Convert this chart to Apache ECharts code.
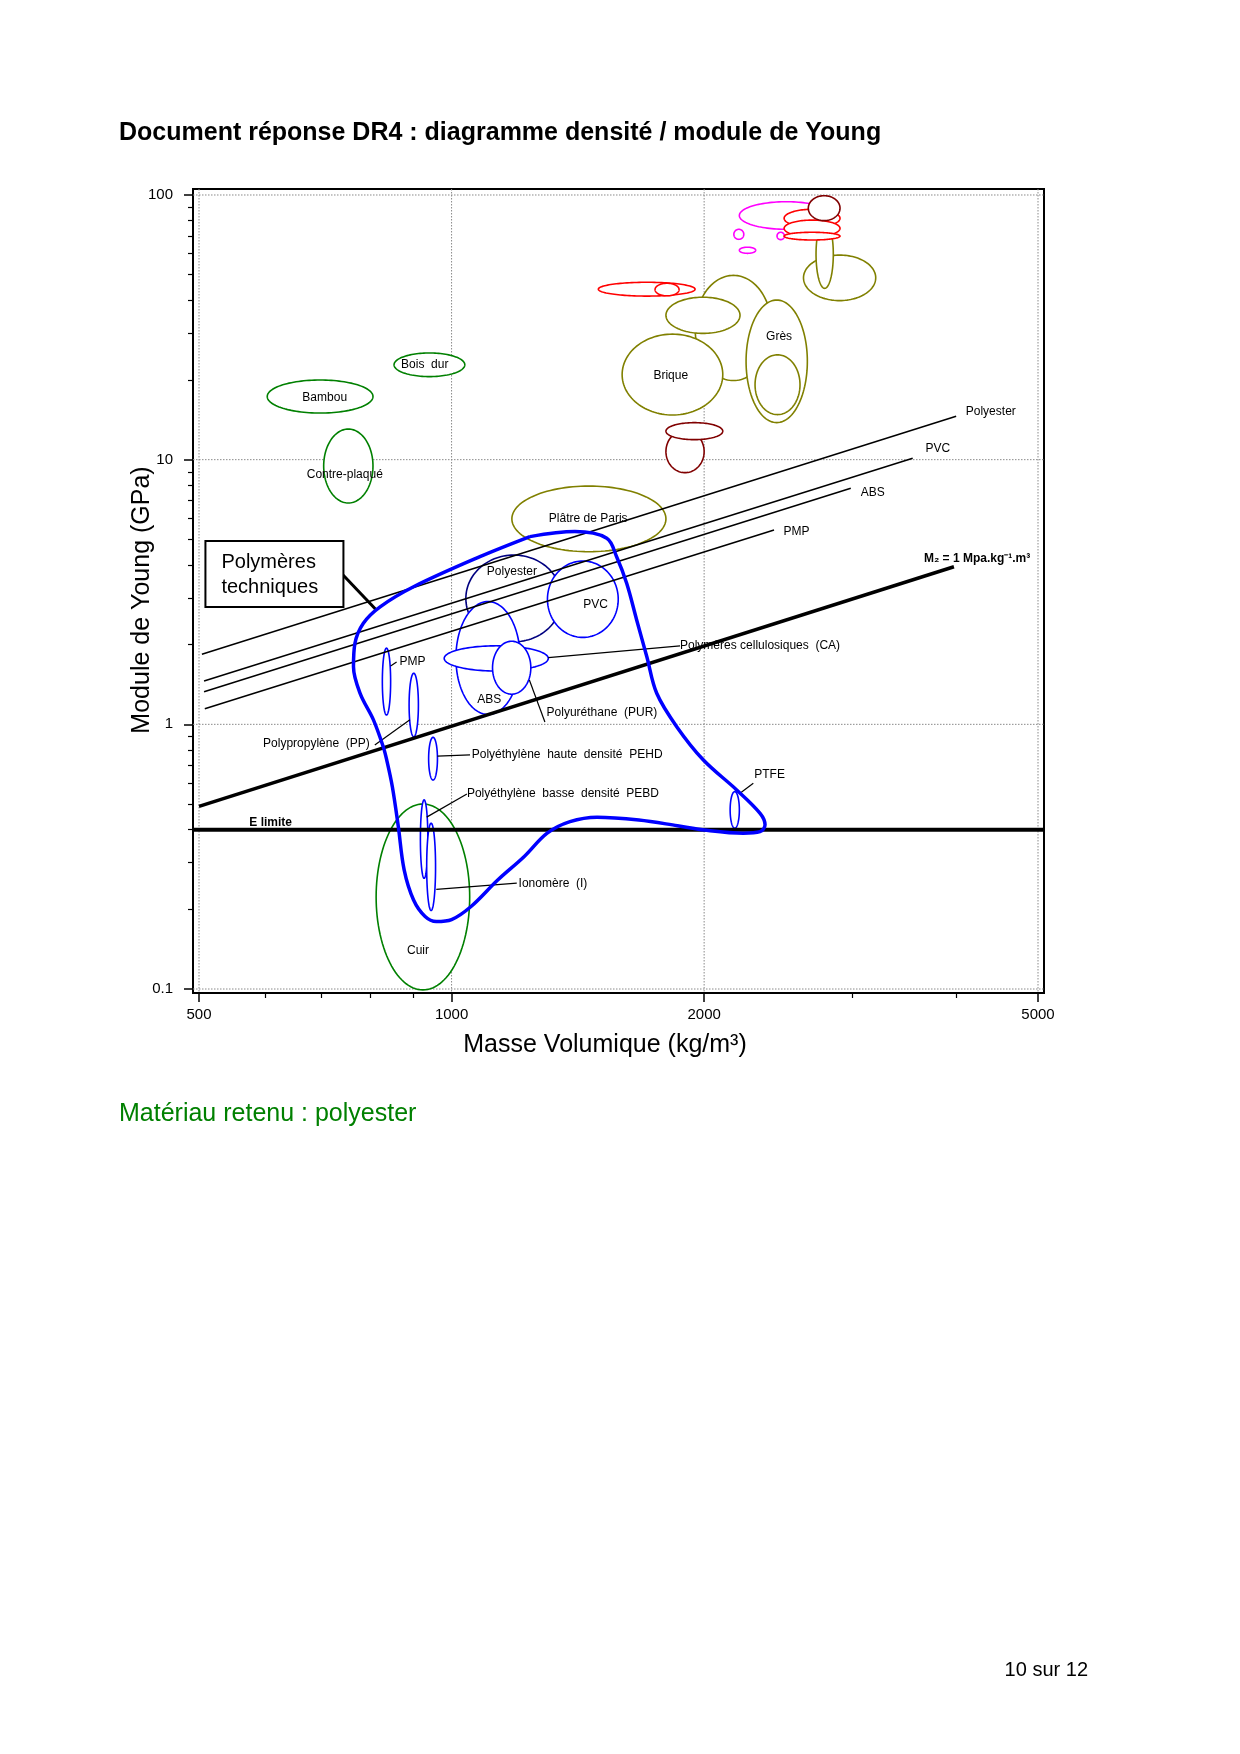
<!DOCTYPE html>
<html><head><meta charset="utf-8">
<script src="https://cdn.jsdelivr.net/npm/echarts@6/dist/echarts.min.js"></script>
<style>html,body{margin:0;padding:0;background:#fff}#c{width:1240px;height:1754px}</style>
</head><body><div id="c"></div>
<script>
// ---------------- DATA (masse volumique kg/m3, module de Young GPa) ----------------
const xTicksMajor = [500, 1000, 2000, 5000];
const xTicksMinor = [600, 700, 800, 900, 3000, 4000];
const yTicksMajor = [0.1, 1, 10, 100];
const yTicksMinor = [0.2,0.3,0.4,0.5,0.6,0.7,0.8,0.9, 2,3,4,5,6,7,8,9, 20,30,40,50,60,70,80,90];

// material zones: [rhoMin, rhoMax, Emin, Emax]
const ceramiques = [
  [1951, 2408, 19.9, 49.7],
  [1801, 2207, 30.0, 41.1],
  [1597, 2105, 14.75, 29.8],   // Brique
  [2244, 2655, 13.8, 40.1],    // Grès
  [2300, 2602, 14.8, 24.9],
  [2627, 3203, 39.9, 59.3],
  [2719, 2851, 44.4, 80.4],
  [1180, 1801, 4.49, 7.95]     // Plâtre de Paris
];
const metauxMagenta = [
  [2203, 2850, 74.2, 94.3],
  [2170, 2230, 68.0, 74.2],
  [2443, 2493, 67.8, 72.3],
  [2203, 2304, 60.2, 63.5]
];
const metauxRouge = [
  [1496, 1951, 41.5, 46.8],
  [1748, 1867, 41.6, 46.4],
  [2491, 2904, 75.5, 88.3],
  [2491, 2904, 69.6, 80.4],
  [2491, 2904, 67.6, 72.3]
];
const metauxBordeaux = [
  [2662, 2904, 80.0, 99.4],
  [1801, 2000, 8.93, 12.9],
  [1801, 2105, 11.9, 13.8]
];
const naturels = [
  [603, 806, 15.0, 20.0],      // Bambou
  [854, 1037, 20.6, 25.3],     // Bois dur
  [704, 806, 6.86, 13.05],     // Contre-plaqué
  [813, 1051, 0.0992, 0.50]    // Cuir
];
const zonePolyester = [
  [1040, 1353, 2.05, 4.36]
];
const polymeres = [
  [1301, 1580, 2.13, 4.14],    // PVC
  [1012, 1207, 1.09, 2.91],    // ABS
  [980, 1304, 1.59, 1.98],     // CA
  [1119, 1243, 1.30, 2.06],    // PUR
  [827, 846, 1.085, 1.94],     // PMP
  [890, 913, 0.898, 1.56],     // PP
  [939, 962, 0.616, 0.893],    // PEHD
  [918, 937, 0.262, 0.518],    // PEBD
  [934, 957, 0.198, 0.423],    // Ionomère
  [2148, 2203, 0.405, 0.557]   // PTFE
];

// envelope "Polymères techniques" [rho, E]
const enveloppe = [
  [1240,5.12],[1403,5.35],[1531,5.05],[1573,4.30],[1617,3.41],[1662,2.48],[1709,1.80],[1756,1.31],
  [1855,0.98],[1996,0.733],[2187,0.565],[2332,0.461],[2364,0.417],[2332,0.393],[2227,0.388],[2000,0.399],
  [1859,0.414],[1672,0.435],[1491,0.446],[1384,0.429],[1300,0.388],[1220,0.316],[1135,0.258],[1055,0.205],
  [1000,0.183],[959,0.180],[930,0.188],[901,0.217],[878,0.282],[864,0.411],[850,0.581],[837,0.733],
  [829,0.823],[807,1.04],[778,1.31],[764,1.65],[767,2.02],[785,2.41],[822,2.78],[901,3.31],[1081,4.30],
  [1240,5.12]
];

// index lines [rho, E]
const lignePolyester = [[504, 1.84], [3994, 14.6]];
const lignePVC = [[507, 1.458], [3545, 10.12]];
const ligneABS = [[507, 1.328], [2991, 7.80]];
const lignePMP = [[508, 1.146], [2423, 5.42]];
const ligneM2 = [[500, 0.49], [3970, 3.94]];
const eLimite = 0.4;

// labels [text, rho, E, align]
const etiquettes = [
  ['Bambou', 706, 17.1, 'center'],
  ['Bois  dur', 929, 22.8, 'center'],
  ['Contre-plaqué', 746, 8.75, 'center'],
  ['Brique', 1825, 20.8, 'center'],
  ['Grès', 2457, 29.1, 'center'],
  ['Plâtre de Paris', 1455, 6.00, 'center'],
  ['Polyester', 1180, 3.77, 'center'],
  ['PVC', 1485, 2.84, 'center'],
  ['ABS', 1109, 1.236, 'center'],
  ['Cuir', 912, 0.140, 'center'],
  ['PMP', 867, 1.72, 'left'],
  ['Polypropylène  (PP)', 799, 0.843, 'right'],
  ['Polyéthylène  haute  densité  PEHD', 1057, 0.766, 'left'],
  ['Polyéthylène  basse  densité  PEBD', 1043, 0.546, 'left'],
  ['Ionomère  (I)', 1202, 0.251, 'left'],
  ['Polyuréthane  (PUR)', 1298, 1.107, 'left'],
  ['Polymères cellulosiques  (CA)', 1872, 1.98, 'left'],
  ['PTFE', 2295, 0.647, 'left'],
  ['Polyester', 4101, 15.2, 'left'],
  ['PVC', 3673, 11.04, 'left'],
  ['ABS', 3073, 7.50, 'left'],
  ['PMP', 2486, 5.34, 'left']
];
const etiquettesGras = [
  ['E limite', 574, 0.424, 'left'],
  ['M₂ = 1 Mpa.kg⁻¹.m³', 3656, 4.24, 'left']
];
// leader lines [rho1, E1, rho2, E2]
const renvois = [
  [1304, 1.786, 1872, 1.98],
  [1238, 1.47, 1292, 1.02],
  [846, 1.66, 860, 1.72],
  [810, 0.835, 892, 1.04],
  [962, 0.759, 1052, 0.766],
  [934, 0.446, 1043, 0.545],
  [959, 0.238, 1196, 0.251],
  [2207, 0.549, 2289, 0.599]
];
const renvoiBoite = [[741, 3.69, 814, 2.70]];
const boite = [[615, 3.70]];

// ---------------- CHART ----------------
const L = Math.log10;
const FONT = '"Liberation Sans", Arial, Helvetica, sans-serif';
const padX = 6 / 839, padYTop = 6 / 264.67, padYBot = 4 / 264.67;
const X_MIN = L(500) - padX, X_MAX = L(5000) + padX;
const Y_MIN = L(0.1) - padYBot, Y_MAX = L(100) + padYTop;

function ellipseSeries(data, color, width) {
  return {
    type: 'custom', z: 2, silent: true, clip: false,
    data: data.map(d => [L(d[0]), L(d[1]), L(d[2]), L(d[3])]),
    encode: {x: [0, 1], y: [2, 3]},
    renderItem: (params, api) => {
      const a = api.coord([api.value(0), api.value(3)]);
      const b = api.coord([api.value(1), api.value(2)]);
      const cx = (a[0] + b[0]) / 2, cy = (a[1] + b[1]) / 2;
      const rx = Math.abs(b[0] - a[0]) / 2, ry = Math.abs(b[1] - a[1]) / 2;
      const pts = [];
      for (let i = 0; i < 120; i++) {
        const t = i / 120 * 2 * Math.PI;
        pts.push([cx + rx * Math.cos(t), cy + ry * Math.sin(t)]);
      }
      return {type: 'polygon', shape: {points: pts}, style: {fill: '#fff', stroke: color, lineWidth: width}};
    }
  };
}
function lineSeries(data, width, color, z, smooth) {
  return {
    type: 'line', z: z, silent: true, symbol: 'none', showSymbol: false, smooth: smooth || false,
    data: data.map(p => [L(p[0]), L(p[1])]),
    lineStyle: {color: color, width: width}
  };
}
function segSeries(data, width) {
  return {
    type: 'custom', z: 3, silent: true, clip: false,
    data: data.map(d => [L(d[0]), L(d[1]), L(d[2]), L(d[3])]),
    encode: {x: [0, 2], y: [1, 3]},
    renderItem: (params, api) => {
      const a = api.coord([api.value(0), api.value(1)]);
      const b = api.coord([api.value(2), api.value(3)]);
      return {type: 'line', shape: {x1: a[0], y1: a[1], x2: b[0], y2: b[1]}, style: {stroke: '#000', lineWidth: width}};
    }
  };
}
function textSeries(list, font) {
  return {
    type: 'custom', z: 6, silent: true, clip: false,
    data: list.map(l => [L(l[1]), L(l[2])]),
    encode: {x: 0, y: 1},
    renderItem: (params, api) => {
      const l = list[params.dataIndex];
      const p = api.coord([api.value(0), api.value(1)]);
      return {type: 'text', x: p[0], y: p[1], style: {text: l[0], fill: '#000', font: font,
        align: l[3], verticalAlign: 'middle', textAlign: l[3], textVerticalAlign: 'middle'}};
    }
  };
}
function gridSeries(vals, vertical) {
  return {
    type: 'custom', z: 1, silent: true, clip: false,
    data: vals.map(v => vertical ? [L(v), 0.5] : [3.2, L(v)]),
    encode: {x: 0, y: 1},
    renderItem: (params, api) => {
      const p = api.coord([api.value(0), api.value(1)]);
      const cs = params.coordSys;
      const shape = vertical ? {x1: p[0], y1: cs.y, x2: p[0], y2: cs.y + cs.height}
                             : {x1: cs.x, y1: p[1], x2: cs.x + cs.width, y2: p[1]};
      return {type: 'line', shape: shape, style: {stroke: '#8a8a8a', lineWidth: 1, lineDash: [1.5, 1.5]}};
    }
  };
}
const eLimiteSeries = {
  type: 'custom', z: 3, silent: true, clip: false,
  data: [[3.2, L(eLimite)]], encode: {x: 0, y: 1},
  renderItem: (params, api) => {
    const p = api.coord([api.value(0), api.value(1)]);
    const cs = params.coordSys;
    return {type: 'line', shape: {x1: cs.x, y1: p[1], x2: cs.x + cs.width, y2: p[1]}, style: {stroke: '#000', lineWidth: 4}};
  }
};
const boiteSeries = {
  type: 'custom', z: 6, silent: true, clip: false,
  data: boite.map(b => [L(b[0]), L(b[1])]), encode: {x: 0, y: 1},
  renderItem: (params, api) => {
    const p = api.coord([api.value(0), api.value(1)]);
    return {type: 'group', children: [
      {type: 'rect', shape: {x: p[0] - 69, y: p[1] - 33, width: 138, height: 66}, style: {fill: '#fff', stroke: '#000', lineWidth: 2}},
      {type: 'text', x: p[0] - 53, y: p[1] - 11, style: {text: 'Polymères', fill: '#000', font: '20px ' + FONT, align: 'left', verticalAlign: 'middle', textAlign: 'left', textVerticalAlign: 'middle'}},
      {type: 'text', x: p[0] - 53, y: p[1] + 13.5, style: {text: 'techniques', fill: '#000', font: '20px ' + FONT, align: 'left', verticalAlign: 'middle', textAlign: 'left', textVerticalAlign: 'middle'}}
    ]};
  }
};

function axisPair(min, max, major, minor, fmt, labelMargin, pos) {
  const base = {type: 'value', min: min, max: max, position: pos, splitLine: {show: false}};
  return [
    Object.assign({}, base, {
      axisLine: {show: true, onZero: false, lineStyle: {color: '#000', width: 2}},
      axisTick: {show: true, inside: false, customValues: major.map(L), length: 9, lineStyle: {color: '#000', width: 1.5}},
      axisLabel: {show: true, customValues: major.map(L), formatter: fmt, color: '#000', fontSize: 15, fontFamily: FONT, margin: labelMargin}
    }),
    Object.assign({}, base, {
      axisLine: {show: false, onZero: false},
      axisTick: {show: true, inside: false, customValues: minor.map(L), length: 5, lineStyle: {color: '#000', width: 1.2}},
      axisLabel: {show: false}
    })
  ];
}

const chart = echarts.init(document.getElementById('c'), null, {renderer: 'canvas'});
chart.setOption({
  animation: false,
  backgroundColor: '#fff',
  grid: {left: 193, right: 196, top: 189, bottom: 761, show: true, borderColor: '#000', borderWidth: 2,
         containLabel: false, outerBoundsMode: 'none'},
  xAxis: axisPair(X_MIN, X_MAX, xTicksMajor, xTicksMinor, v => String(Math.round(Math.pow(10, v))), 14, 'bottom'),
  yAxis: axisPair(Y_MIN, Y_MAX, yTicksMajor, yTicksMinor, v => String(Math.round(Math.pow(10, v) * 10) / 10), 20, 'left'),
  graphic: [
    {type: 'text', x: 119, y: 133, style: {text: 'Document réponse DR4 : diagramme densité / module de Young', fill: '#000', font: 'bold 25px ' + FONT, align: 'left', verticalAlign: 'middle', textAlign: 'left', textVerticalAlign: 'middle'}},
    {type: 'text', x: 142, y: 600, rotation: Math.PI / 2, style: {text: 'Module de Young (GPa)', fill: '#000', font: '25px ' + FONT, align: 'center', verticalAlign: 'middle', textAlign: 'center', textVerticalAlign: 'middle'}},
    {type: 'text', x: 605, y: 1045, style: {text: 'Masse Volumique (kg/m³)', fill: '#000', font: '25px ' + FONT, align: 'center', verticalAlign: 'middle', textAlign: 'center', textVerticalAlign: 'middle'}},
    {type: 'text', x: 119, y: 1114, style: {text: 'Matériau retenu : polyester', fill: '#008000', font: '25px ' + FONT, align: 'left', verticalAlign: 'middle', textAlign: 'left', textVerticalAlign: 'middle'}},
    {type: 'text', x: 1088, y: 1670, style: {text: '10 sur 12', fill: '#000', font: '20px ' + FONT, align: 'right', verticalAlign: 'middle', textAlign: 'right', textVerticalAlign: 'middle'}}
  ],
  series: [
    gridSeries(xTicksMajor, true),
    gridSeries(yTicksMajor, false),
    ellipseSeries(ceramiques, '#808000', 1.6),
    ellipseSeries(metauxMagenta, '#ff00ff', 1.6),
    ellipseSeries(metauxRouge, '#ff0000', 1.6),
    ellipseSeries(metauxBordeaux, '#800000', 1.6),
    ellipseSeries(naturels, '#008000', 1.6),
    ellipseSeries(zonePolyester, '#000080', 1.6),
    ellipseSeries(polymeres, '#0000ff', 1.6),
    lineSeries(lignePolyester, 1.5, '#000', 3),
    lineSeries(lignePVC, 1.5, '#000', 3),
    lineSeries(ligneABS, 1.5, '#000', 3),
    lineSeries(lignePMP, 1.5, '#000', 3),
    lineSeries(ligneM2, 3.5, '#000', 3),
    eLimiteSeries,
    segSeries(renvois, 1.2),
    segSeries(renvoiBoite, 3),
    lineSeries(enveloppe, 3.5, '#0000ff', 4, 0.35),
    textSeries(etiquettes, '12px ' + FONT),
    textSeries(etiquettesGras, 'bold 12px ' + FONT),
    boiteSeries
  ]
});
</script>
</body></html>
